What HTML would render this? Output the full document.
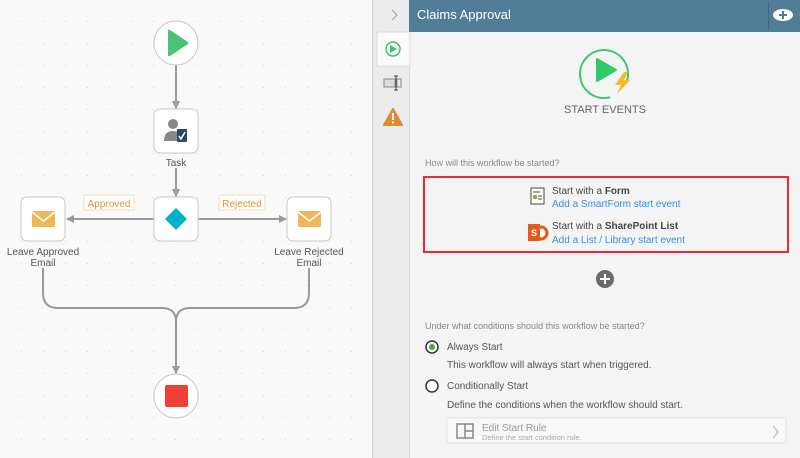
<!DOCTYPE html>
<html><head><style>
html,body{margin:0;padding:0;width:800px;height:458px;overflow:hidden;background:#f7f7f7;font-family:"Liberation Sans",sans-serif;}
</style></head><body>
<svg width="800" height="458" viewBox="0 0 800 458" xmlns="http://www.w3.org/2000/svg" style="position:absolute;left:0;top:0">
<defs>
<pattern id="dots" x="0" y="0" width="22" height="22" patternUnits="userSpaceOnUse">
<rect x="21" y="21" width="1" height="1" fill="#d4d4d4"/>
</pattern>
<marker id="ar" markerWidth="8" markerHeight="8" refX="7" refY="4" orient="auto" markerUnits="userSpaceOnUse">
<path d="M0,0 L8,4 L0,8 z" fill="#999"/>
</marker>
</defs>
<rect x="0" y="0" width="372" height="458" fill="#f9f9f9"/>
<rect x="0" y="0" width="372" height="458" fill="url(#dots)"/>
<g stroke="#9a9a9a" stroke-width="2" fill="none">
<line x1="176" y1="65" x2="176" y2="108" marker-end="url(#ar)"/>
<line x1="176" y1="168" x2="176" y2="196" marker-end="url(#ar)"/>
<line x1="154" y1="219" x2="67" y2="219" marker-end="url(#ar)"/>
<line x1="198" y1="219" x2="286" y2="219" marker-end="url(#ar)"/>
<path d="M43,268 L43,293 Q43,308 58,308 L162,308 Q176,308 176,322"/>
<path d="M309,268 L309,293 Q309,308 294,308 L190,308 Q176,308 176,322"/>
<line x1="176" y1="320" x2="176" y2="373" marker-end="url(#ar)"/>
</g>
<circle cx="176" cy="43" r="22" fill="#fff" stroke="#c8c8c8"/>
<path d="M168,31 Q168,29 170,30 L188,42 Q189,43 188,44 L170,56 Q168,57 168,55 z" fill="#4cc274"/>
<rect x="154" y="109" width="44" height="44" rx="6" fill="#fff" stroke="#c8c8c8"/>
<circle cx="173" cy="124" r="5" fill="#888"/>
<path d="M164,141 Q164,131 173,131 Q180,131 180,138 L180,141 z" fill="#888"/>
<rect x="177" y="129" width="10" height="13" rx="1" fill="#2e4a63"/>
<path d="M179,136 L181,139 L185,132" stroke="#fff" stroke-width="1.5" fill="none"/>
<text x="176" y="166" font-size="10" fill="#555" text-anchor="middle">Task</text>
<rect x="154" y="197" width="44" height="44" rx="6" fill="#fff" stroke="#c8c8c8"/>
<path d="M176,208 L187,219 L176,230 L165,219 z" fill="#00b3c8"/>
<rect x="84" y="195" width="50" height="15" fill="#fff" stroke="#f6dcae"/>
<text x="109" y="207" font-size="10" fill="#e0952a" text-anchor="middle">Approved</text>
<rect x="219" y="195" width="46" height="15" fill="#fff" stroke="#f6dcae"/>
<text x="242" y="207" font-size="10" fill="#e0952a" text-anchor="middle">Rejected</text>
<rect x="21" y="197" width="44" height="44" rx="6" fill="#fff" stroke="#c8c8c8"/>
<rect x="32" y="211" width="23" height="16" rx="1" fill="#f0b756"/>
<path d="M32,212 L43.5,221 L55,212" stroke="#fff" stroke-width="1.5" fill="none"/>
<rect x="287" y="197" width="44" height="44" rx="6" fill="#fff" stroke="#c8c8c8"/>
<rect x="298" y="211" width="23" height="16" rx="1" fill="#f0b756"/>
<path d="M298,212 L309.5,221 L321,212" stroke="#fff" stroke-width="1.5" fill="none"/>
<g font-size="10" fill="#555" text-anchor="middle">
<text x="43" y="255">Leave Approved</text><text x="43" y="266">Email</text>
<text x="309" y="255">Leave Rejected</text><text x="309" y="266">Email</text>
</g>
<circle cx="176" cy="396" r="22" fill="#fff" stroke="#c8c8c8"/>
<rect x="165" y="385" width="23" height="22" rx="2" fill="#f04134"/>

<rect x="372" y="0" width="428" height="458" fill="#f4f4f4"/>
<rect x="372" y="0" width="37" height="458" fill="#ececec"/>
<line x1="372.5" y1="0" x2="372.5" y2="458" stroke="#cfcfcf"/>
<line x1="409.5" y1="32" x2="409.5" y2="458" stroke="#d8d8d8"/>
<rect x="377" y="32" width="33" height="34" fill="#fafafa" stroke="#dcdcdc"/>
<path d="M392,10 L397,15 L392,20" stroke="#aaa" stroke-width="1.2" fill="none"/>
<rect x="409" y="0" width="391" height="32" fill="#527d97"/>
<line x1="768.5" y1="2" x2="768.5" y2="30" stroke="#3f6680"/>
<text x="417" y="19" font-size="13" fill="#fff">Claims Approval</text>
<ellipse cx="783" cy="15" rx="10" ry="6" fill="#fff"/>
<path d="M783,11 v8 M779,15 h8" stroke="#527d97" stroke-width="2"/>
<circle cx="393" cy="49" r="7" fill="none" stroke="#3ec46d" stroke-width="1.5"/>
<path d="M390,45 L397,49 L390,53 z" fill="#3ec46d"/>
<rect x="384" y="79" width="11" height="8" fill="#ddd" stroke="#888"/>
<path d="M396,76 v14 M394,76 h4 M394,90 h4" stroke="#444" stroke-width="1"/>
<rect x="397" y="79" width="4" height="8" fill="none" stroke="#888"/>
<path d="M393,109 L402,125 L384,125 z" fill="#e08a2c" stroke="#e08a2c" stroke-linejoin="round" stroke-width="2"/>
<rect x="392" y="113" width="2" height="7" fill="#fff"/><rect x="392" y="121.5" width="2" height="2" fill="#fff"/>
<path d="M627.2,80.2 A24,24 0 1 0 610.2,97.2" fill="none" stroke="#3ec46d" stroke-width="2"/>
<path d="M597,59 L616,70 L597,81 z" fill="#2ecb6a" stroke="#2ecb6a" stroke-linejoin="round" stroke-width="2"/>
<path d="M624,72 L615,85 L621,85 L617,94 L630,80 L624,80 L628,72 z" fill="#f6bb22"/>
<text x="605" y="113" font-size="11" fill="#666" text-anchor="middle">START EVENTS</text>
<text x="425" y="166" font-size="9" fill="#888">How will this workflow be started?</text>
<rect x="424" y="177" width="364" height="75" fill="none" stroke="#ee2a36" stroke-width="2"/>
<rect x="531" y="188" width="13" height="16" fill="#fff" stroke="#444"/>
<rect x="533" y="195" width="4" height="4" fill="#a4a820"/>
<path d="M538,196 h4 M538,199 h4 M533,192 h7" stroke="#444"/>
<text x="552" y="194" font-size="10" fill="#444">Start with a <tspan font-weight="bold">Form</tspan></text>
<text x="552" y="207" font-size="10" fill="#2f8fe0">Add a SmartForm start event</text>
<circle cx="541" cy="233" r="6" fill="#fff" stroke="#e35a1d" stroke-width="3"/>
<rect x="528" y="224" width="12" height="17" fill="#e35a1d"/>
<text x="534" y="236" font-size="9" fill="#fff" text-anchor="middle" font-weight="bold">S</text>
<text x="552" y="229" font-size="10" fill="#444">Start with a <tspan font-weight="bold">SharePoint List</tspan></text>
<text x="552" y="243" font-size="10" fill="#2f8fe0">Add a List / Library start event</text>
<circle cx="605" cy="279" r="9" fill="#6b6b6b"/>
<path d="M605,274 v10 M600,279 h10" stroke="#fff" stroke-width="2"/>
<text x="425" y="329" font-size="9" fill="#888">Under what conditions should this workflow be started?</text>
<circle cx="432" cy="347" r="6" fill="#fff" stroke="#333" stroke-width="1.5"/>
<circle cx="432" cy="347" r="3" fill="#3cb043"/>
<text x="447" y="350" font-size="10" fill="#555">Always Start</text>
<text x="447" y="368" font-size="10" fill="#555">This workflow will always start when triggered.</text>
<circle cx="432" cy="386" r="6" fill="#fff" stroke="#333" stroke-width="1.5"/>
<text x="447" y="389" font-size="10" fill="#555">Conditionally Start</text>
<text x="447" y="408" font-size="10" fill="#555">Define the conditions when the workflow should start.</text>
<rect x="447" y="418" width="339" height="25" rx="2" fill="#f8f8f8" stroke="#e4e4e4"/>
<rect x="457" y="424" width="16" height="14" fill="none" stroke="#888" stroke-width="1.5"/>
<path d="M465,424 v14 M465,431 h8" stroke="#888" stroke-width="1.5"/>
<text x="482" y="431" font-size="10" fill="#999">Edit Start Rule</text>
<text x="482" y="440" font-size="7.5" fill="#aaa">Define the start condition rule.</text>
<path d="M773,426 L778,432 L773,438" stroke="#bbb" stroke-width="1.2" fill="none"/>
</svg>
</body></html>
